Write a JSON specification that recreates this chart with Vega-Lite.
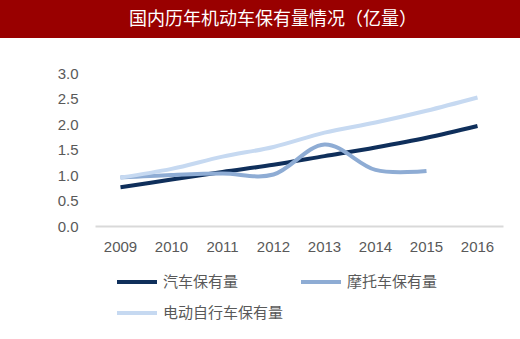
{
  "$schema": "https://vega.github.io/schema/vega-lite/v6.json",
  "width": 520,
  "height": 301,
  "autosize": {"type": "none"},
  "padding": {"top": 38, "left": 0, "right": 0, "bottom": 0},
  "background": "#990000",
  "view": {"fill": "#ffffff", "stroke": null},
  "title": {
    "text": "国内历年机动车保有量情况（亿量）",
    "color": "#ffffff",
    "fontSize": 18,
    "font": "Noto Sans CJK SC",
    "fontWeight": "normal",
    "anchor": "middle",
    "baseline": "middle",
    "dx": 13,
    "offset": 0
  },
  "data": {
    "values": [
      {"year": "2009", "series": "汽车保有量", "value": 0.76},
      {"year": "2010", "series": "汽车保有量", "value": 0.91},
      {"year": "2011", "series": "汽车保有量", "value": 1.06},
      {"year": "2012", "series": "汽车保有量", "value": 1.2},
      {"year": "2013", "series": "汽车保有量", "value": 1.37},
      {"year": "2014", "series": "汽车保有量", "value": 1.54},
      {"year": "2015", "series": "汽车保有量", "value": 1.73},
      {"year": "2016", "series": "汽车保有量", "value": 1.96},
      {"year": "2009", "series": "摩托车保有量", "value": 0.95},
      {"year": "2010", "series": "摩托车保有量", "value": 1.0},
      {"year": "2011", "series": "摩托车保有量", "value": 1.03},
      {"year": "2012", "series": "摩托车保有量", "value": 1.01},
      {"year": "2013", "series": "摩托车保有量", "value": 1.6},
      {"year": "2014", "series": "摩托车保有量", "value": 1.1},
      {"year": "2015", "series": "摩托车保有量", "value": 1.08},
      {"year": "2009", "series": "电动自行车保有量", "value": 0.95},
      {"year": "2010", "series": "电动自行车保有量", "value": 1.12},
      {"year": "2011", "series": "电动自行车保有量", "value": 1.36},
      {"year": "2012", "series": "电动自行车保有量", "value": 1.55},
      {"year": "2013", "series": "电动自行车保有量", "value": 1.83},
      {"year": "2014", "series": "电动自行车保有量", "value": 2.03},
      {"year": "2015", "series": "电动自行车保有量", "value": 2.26},
      {"year": "2016", "series": "电动自行车保有量", "value": 2.52}
    ]
  },
  "mark": {"type": "line", "interpolate": "cardinal", "strokeCap": "butt"},
  "encoding": {
    "x": {
      "field": "year",
      "type": "ordinal",
      "scale": {"type": "band", "range": [95, 503], "paddingInner": 0, "paddingOuter": 0},
      "axis": {
        "orient": "bottom",
        "offset": -113,
        "title": null,
        "labelAngle": 0,
        "ticks": false,
        "grid": false,
        "domainColor": "#d9d9d9",
        "domainWidth": 2,
        "labelPadding": 13,
        "labelFontSize": 15,
        "labelFont": "Liberation Sans",
        "labelColor": "#595959"
      }
    },
    "y": {
      "field": "value",
      "type": "quantitative",
      "scale": {"domain": [0, 3], "range": [188, 35], "nice": false},
      "axis": {
        "values": [0, 0.5, 1, 1.5, 2, 2.5, 3],
        "format": ".1f",
        "offset": -95,
        "labelPadding": 17,
        "ticks": false,
        "domain": false,
        "grid": false,
        "title": null,
        "labelFontSize": 15,
        "labelFont": "Liberation Sans",
        "labelColor": "#595959"
      }
    },
    "color": {
      "field": "series",
      "type": "nominal",
      "scale": {
        "domain": ["汽车保有量", "摩托车保有量", "电动自行车保有量"],
        "range": ["#0f2f5b", "#8eacd4", "#c6d9f1"]
      },
      "legend": {
        "orient": "none",
        "legendX": 115,
        "legendY": 222,
        "direction": "horizontal",
        "columns": 2,
        "title": null,
        "symbolType": "stroke",
        "symbolSize": 1600,
        "symbolStrokeWidth": 5,
        "labelFontSize": 15,
        "labelFont": "Noto Sans CJK SC",
        "labelColor": "#595959",
        "labelOffset": 4,
        "columnPadding": 9,
        "rowPadding": 1
      }
    },
    "strokeWidth": {
      "field": "series",
      "type": "nominal",
      "scale": {
        "domain": ["汽车保有量", "摩托车保有量", "电动自行车保有量"],
        "range": [4, 4, 5]
      },
      "legend": null
    }
  }
}
